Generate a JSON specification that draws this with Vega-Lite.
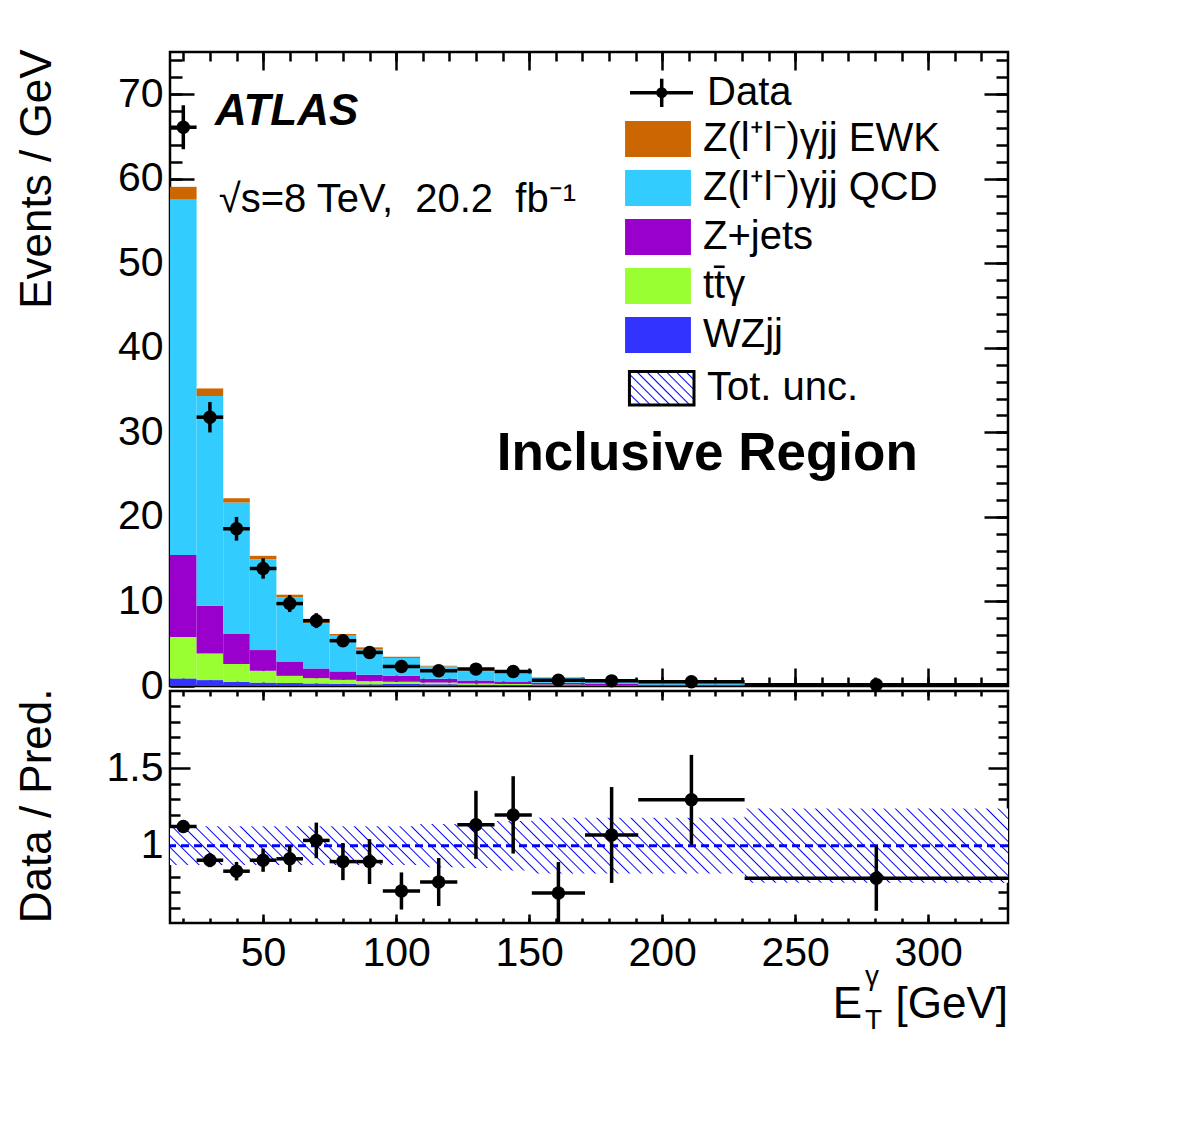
{
  "$schema": "https://vega.github.io/schema/vega-lite/v6.json",
  "background": "white",
  "padding": {"left": 13, "top": 47, "right": 10, "bottom": 10},
  "spacing": 5,
  "bounds": "flush",
  "config": {
    "font": "Liberation Sans",
    "view": {"stroke": "black", "strokeWidth": 2.5},
    "axis": {"grid": false, "domain": false, "tickColor": "black", "tickWidth": 2.5, "labelColor": "black", "labelFont": "Liberation Sans", "labelFontSize": 41, "labelOverlap": false, "labelFlush": false, "titleFont": "Liberation Sans", "titleFontSize": 44, "titleFontWeight": "normal", "titleColor": "black", "zindex": 1}
  },
  "datasets": {
    "stack": [
      {"lo": 15, "hi": 25, "process": "WZjj", "value": 0.9},
      {"lo": 15, "hi": 25, "process": "tt\u0304\u03b3", "value": 4.9},
      {"lo": 15, "hi": 25, "process": "Z+jets", "value": 9.7},
      {"lo": 15, "hi": 25, "process": "Z(l\u207al\u207b)\u03b3jj QCD", "value": 42.1},
      {"lo": 15, "hi": 25, "process": "Z(l\u207al\u207b)\u03b3jj EWK", "value": 1.45},
      {"lo": 25, "hi": 35, "process": "WZjj", "value": 0.7},
      {"lo": 25, "hi": 35, "process": "tt\u0304\u03b3", "value": 3.15},
      {"lo": 25, "hi": 35, "process": "Z+jets", "value": 5.65},
      {"lo": 25, "hi": 35, "process": "Z(l\u207al\u207b)\u03b3jj QCD", "value": 24.8},
      {"lo": 25, "hi": 35, "process": "Z(l\u207al\u207b)\u03b3jj EWK", "value": 0.9},
      {"lo": 35, "hi": 45, "process": "WZjj", "value": 0.5},
      {"lo": 35, "hi": 45, "process": "tt\u0304\u03b3", "value": 2.1},
      {"lo": 35, "hi": 45, "process": "Z+jets", "value": 3.55},
      {"lo": 35, "hi": 45, "process": "Z(l\u207al\u207b)\u03b3jj QCD", "value": 15.55},
      {"lo": 35, "hi": 45, "process": "Z(l\u207al\u207b)\u03b3jj EWK", "value": 0.5},
      {"lo": 45, "hi": 55, "process": "WZjj", "value": 0.4},
      {"lo": 45, "hi": 55, "process": "tt\u0304\u03b3", "value": 1.4},
      {"lo": 45, "hi": 55, "process": "Z+jets", "value": 2.45},
      {"lo": 45, "hi": 55, "process": "Z(l\u207al\u207b)\u03b3jj QCD", "value": 10.75},
      {"lo": 45, "hi": 55, "process": "Z(l\u207al\u207b)\u03b3jj EWK", "value": 0.4},
      {"lo": 55, "hi": 65, "process": "WZjj", "value": 0.35},
      {"lo": 55, "hi": 65, "process": "tt\u0304\u03b3", "value": 0.85},
      {"lo": 55, "hi": 65, "process": "Z+jets", "value": 1.7},
      {"lo": 55, "hi": 65, "process": "Z(l\u207al\u207b)\u03b3jj QCD", "value": 7.6},
      {"lo": 55, "hi": 65, "process": "Z(l\u207al\u207b)\u03b3jj EWK", "value": 0.3},
      {"lo": 65, "hi": 75, "process": "WZjj", "value": 0.3},
      {"lo": 65, "hi": 75, "process": "tt\u0304\u03b3", "value": 0.63},
      {"lo": 65, "hi": 75, "process": "Z+jets", "value": 1.14},
      {"lo": 65, "hi": 75, "process": "Z(l\u207al\u207b)\u03b3jj QCD", "value": 5.33},
      {"lo": 65, "hi": 75, "process": "Z(l\u207al\u207b)\u03b3jj EWK", "value": 0.2},
      {"lo": 75, "hi": 85, "process": "WZjj", "value": 0.25},
      {"lo": 75, "hi": 85, "process": "tt\u0304\u03b3", "value": 0.48},
      {"lo": 75, "hi": 85, "process": "Z+jets", "value": 1.0},
      {"lo": 75, "hi": 85, "process": "Z(l\u207al\u207b)\u03b3jj QCD", "value": 4.22},
      {"lo": 75, "hi": 85, "process": "Z(l\u207al\u207b)\u03b3jj EWK", "value": 0.2},
      {"lo": 85, "hi": 95, "process": "WZjj", "value": 0.2},
      {"lo": 85, "hi": 95, "process": "tt\u0304\u03b3", "value": 0.37},
      {"lo": 85, "hi": 95, "process": "Z+jets", "value": 0.76},
      {"lo": 85, "hi": 95, "process": "Z(l\u207al\u207b)\u03b3jj QCD", "value": 3.04},
      {"lo": 85, "hi": 95, "process": "Z(l\u207al\u207b)\u03b3jj EWK", "value": 0.2},
      {"lo": 95, "hi": 109, "process": "WZjj", "value": 0.25},
      {"lo": 95, "hi": 109, "process": "tt\u0304\u03b3", "value": 0.25},
      {"lo": 95, "hi": 109, "process": "Z+jets", "value": 0.7},
      {"lo": 95, "hi": 109, "process": "Z(l\u207al\u207b)\u03b3jj QCD", "value": 2.1},
      {"lo": 95, "hi": 109, "process": "Z(l\u207al\u207b)\u03b3jj EWK", "value": 0.16},
      {"lo": 109, "hi": 123, "process": "WZjj", "value": 0.2},
      {"lo": 109, "hi": 123, "process": "tt\u0304\u03b3", "value": 0.2},
      {"lo": 109, "hi": 123, "process": "Z+jets", "value": 0.45},
      {"lo": 109, "hi": 123, "process": "Z(l\u207al\u207b)\u03b3jj QCD", "value": 1.45},
      {"lo": 109, "hi": 123, "process": "Z(l\u207al\u207b)\u03b3jj EWK", "value": 0.1},
      {"lo": 123, "hi": 137, "process": "WZjj", "value": 0.15},
      {"lo": 123, "hi": 137, "process": "tt\u0304\u03b3", "value": 0.15},
      {"lo": 123, "hi": 137, "process": "Z+jets", "value": 0.35},
      {"lo": 123, "hi": 137, "process": "Z(l\u207al\u207b)\u03b3jj QCD", "value": 1.1},
      {"lo": 123, "hi": 137, "process": "Z(l\u207al\u207b)\u03b3jj EWK", "value": 0.08},
      {"lo": 137, "hi": 151, "process": "WZjj", "value": 0.12},
      {"lo": 137, "hi": 151, "process": "tt\u0304\u03b3", "value": 0.12},
      {"lo": 137, "hi": 151, "process": "Z+jets", "value": 0.3},
      {"lo": 137, "hi": 151, "process": "Z(l\u207al\u207b)\u03b3jj QCD", "value": 0.9},
      {"lo": 137, "hi": 151, "process": "Z(l\u207al\u207b)\u03b3jj EWK", "value": 0.07},
      {"lo": 151, "hi": 171, "process": "WZjj", "value": 0.1},
      {"lo": 151, "hi": 171, "process": "tt\u0304\u03b3", "value": 0.08},
      {"lo": 151, "hi": 171, "process": "Z+jets", "value": 0.2},
      {"lo": 151, "hi": 171, "process": "Z(l\u207al\u207b)\u03b3jj QCD", "value": 0.57},
      {"lo": 151, "hi": 171, "process": "Z(l\u207al\u207b)\u03b3jj EWK", "value": 0.05},
      {"lo": 171, "hi": 191, "process": "WZjj", "value": 0.08},
      {"lo": 171, "hi": 191, "process": "tt\u0304\u03b3", "value": 0.05},
      {"lo": 171, "hi": 191, "process": "Z+jets", "value": 0.12},
      {"lo": 171, "hi": 191, "process": "Z(l\u207al\u207b)\u03b3jj QCD", "value": 0.28},
      {"lo": 171, "hi": 191, "process": "Z(l\u207al\u207b)\u03b3jj EWK", "value": 0.03},
      {"lo": 191, "hi": 231, "process": "WZjj", "value": 0.05},
      {"lo": 191, "hi": 231, "process": "tt\u0304\u03b3", "value": 0.03},
      {"lo": 191, "hi": 231, "process": "Z+jets", "value": 0.08},
      {"lo": 191, "hi": 231, "process": "Z(l\u207al\u207b)\u03b3jj QCD", "value": 0.22},
      {"lo": 191, "hi": 231, "process": "Z(l\u207al\u207b)\u03b3jj EWK", "value": 0.02},
      {"lo": 231, "hi": 330, "process": "WZjj", "value": 0.03},
      {"lo": 231, "hi": 330, "process": "tt\u0304\u03b3", "value": 0.01},
      {"lo": 231, "hi": 330, "process": "Z+jets", "value": 0.03},
      {"lo": 231, "hi": 330, "process": "Z(l\u207al\u207b)\u03b3jj QCD", "value": 0.09},
      {"lo": 231, "hi": 330, "process": "Z(l\u207al\u207b)\u03b3jj EWK", "value": 0.01}
    ],
    "bins": [
      {"lo": 15, "hi": 25, "x": 20, "d": 66.1, "dlo": 63.5, "dhi": 68.7, "r": 1.124, "rlo": 1.094, "rhi": 1.154},
      {"lo": 25, "hi": 35, "x": 30, "d": 31.8, "dlo": 30.0, "dhi": 33.6, "r": 0.906, "rlo": 0.861, "rhi": 0.951},
      {"lo": 35, "hi": 45, "x": 40, "d": 18.6, "dlo": 17.2, "dhi": 20.0, "r": 0.835, "rlo": 0.775, "rhi": 0.895},
      {"lo": 45, "hi": 55, "x": 50, "d": 13.9, "dlo": 12.7, "dhi": 15.1, "r": 0.906, "rlo": 0.831, "rhi": 0.981},
      {"lo": 55, "hi": 65, "x": 60, "d": 9.75, "dlo": 8.75, "dhi": 10.75, "r": 0.915, "rlo": 0.83, "rhi": 1.0},
      {"lo": 65, "hi": 75, "x": 70, "d": 7.73, "dlo": 6.85, "dhi": 8.61, "r": 1.034, "rlo": 0.919, "rhi": 1.149},
      {"lo": 75, "hi": 85, "x": 80, "d": 5.36, "dlo": 4.63, "dhi": 6.09, "r": 0.897, "rlo": 0.777, "rhi": 1.017},
      {"lo": 85, "hi": 95, "x": 90, "d": 3.97, "dlo": 3.34, "dhi": 4.6, "r": 0.897, "rlo": 0.752, "rhi": 1.042},
      {"lo": 95, "hi": 109, "x": 102, "d": 2.31, "dlo": 1.9, "dhi": 2.72, "r": 0.707, "rlo": 0.587, "rhi": 0.827},
      {"lo": 109, "hi": 123, "x": 116, "d": 1.8, "dlo": 1.44, "dhi": 2.16, "r": 0.765, "rlo": 0.61, "rhi": 0.92},
      {"lo": 123, "hi": 137, "x": 130, "d": 2.0, "dlo": 1.62, "dhi": 2.38, "r": 1.135, "rlo": 0.915, "rhi": 1.355},
      {"lo": 137, "hi": 151, "x": 144, "d": 1.72, "dlo": 1.37, "dhi": 2.07, "r": 1.199, "rlo": 0.949, "rhi": 1.449},
      {"lo": 151, "hi": 171, "x": 161, "d": 0.69, "dlo": 0.5, "dhi": 0.88, "r": 0.694, "rlo": 0.494, "rhi": 0.894},
      {"lo": 171, "hi": 191, "x": 181, "d": 0.61, "dlo": 0.44, "dhi": 0.78, "r": 1.069, "rlo": 0.759, "rhi": 1.379},
      {"lo": 191, "hi": 231, "x": 211, "d": 0.5, "dlo": 0.39, "dhi": 0.61, "r": 1.297, "rlo": 1.007, "rhi": 1.587},
      {"lo": 231, "hi": 330, "x": 280.5, "d": 0.14, "dlo": 0.1, "dhi": 0.18, "r": 0.789, "rlo": 0.579, "rhi": 0.999}
    ],
    "band": [
      {"x": 15, "lo": 0.875, "hi": 1.125},
      {"x": 25, "lo": 0.875, "hi": 1.125},
      {"x": 35, "lo": 0.875, "hi": 1.125},
      {"x": 45, "lo": 0.875, "hi": 1.125},
      {"x": 55, "lo": 0.875, "hi": 1.125},
      {"x": 65, "lo": 0.875, "hi": 1.125},
      {"x": 75, "lo": 0.875, "hi": 1.125},
      {"x": 85, "lo": 0.875, "hi": 1.125},
      {"x": 95, "lo": 0.875, "hi": 1.125},
      {"x": 109, "lo": 0.86, "hi": 1.14},
      {"x": 123, "lo": 0.855, "hi": 1.145},
      {"x": 137, "lo": 0.84, "hi": 1.16},
      {"x": 151, "lo": 0.82, "hi": 1.18},
      {"x": 171, "lo": 0.82, "hi": 1.18},
      {"x": 191, "lo": 0.82, "hi": 1.18},
      {"x": 231, "lo": 0.76, "hi": 1.24},
      {"x": 330, "lo": 0.76, "hi": 1.24}
    ]
  },
  "resolve": {"scale": {"color": "independent"}, "legend": {"color": "independent"}},
  "vconcat": [
    {
      "width": 838,
      "height": 634,
      "resolve": {"axis": {"x": "independent", "y": "independent"}},
      "layer": [
        {
          "data": {"name": "stack"},
          "transform": [
            {"calculate": "indexof(['WZjj','tt\u0304\u03b3','Z+jets','Z(l\u207al\u207b)\u03b3jj QCD','Z(l\u207al\u207b)\u03b3jj EWK'], datum.process)", "as": "ord"},
            {"stack": "value", "groupby": ["lo"], "sort": [{"field": "ord", "order": "ascending"}], "as": ["v0", "v1"]}
          ],
          "mark": {"type": "rect"},
          "encoding": {
            "x": {"field": "lo", "type": "quantitative", "scale": {"domain": [15, 330], "nice": false, "zero": false},
                  "axis": {"orient": "bottom", "values": [50, 100, 150, 200, 250, 300], "labels": false, "tickSize": -18, "title": null}},
            "x2": {"field": "hi"},
            "y": {"field": "v1", "type": "quantitative", "scale": {"domain": [0, 75], "nice": false, "zero": false},
                  "axis": {"orient": "left", "values": [0, 10, 20, 30, 40, 50, 60, 70], "tickSize": -24, "labelPadding": 31, "title": "Events / GeV", "titleX": -155, "titleY": -3, "titleAlign": "right", "titleAngle": 270, "titleBaseline": "top"}},
            "y2": {"field": "v0"},
            "color": {
              "field": "process", "type": "nominal",
              "scale": {
                "domain": ["Z(l\u207al\u207b)\u03b3jj EWK", "Z(l\u207al\u207b)\u03b3jj QCD", "Z+jets", "tt\u0304\u03b3", "WZjj"],
                "range": ["#cc6600", "#33ccff", "#9900cc", "#99ff33", "#3333ff"]
              },
              "legend": {
                "orient": "none", "legendX": 468, "legendY": 67, "title": null, "padding": 0,
                "symbolSize": 1296, "symbolType": "M-1.83,-1H1.83V1H-1.83Z", "symbolStrokeWidth": 0,
                "labelFontSize": 40, "labelFont": "Liberation Sans", "labelColor": "black", "labelOffset": 25, "labelLimit": 600, "rowPadding": 9
              }
            }
          }
        },
        {
          "data": {"name": "bins"},
          "mark": {"type": "rule", "color": "black", "strokeWidth": 3.5},
          "encoding": {
            "x": {"field": "x", "type": "quantitative", "axis": {"orient": "bottom", "values": [20, 30, 40, 50, 60, 70, 80, 90, 100, 110, 120, 130, 140, 150, 160, 170, 180, 190, 200, 210, 220, 230, 240, 250, 260, 270, 280, 290, 300, 310, 320], "labels": false, "tickSize": -9, "title": null}},
            "y": {"field": "dlo", "type": "quantitative", "axis": {"orient": "left", "values": [2, 4, 6, 8, 10, 12, 14, 16, 18, 20, 22, 24, 26, 28, 30, 32, 34, 36, 38, 40, 42, 44, 46, 48, 50, 52, 54, 56, 58, 60, 62, 64, 66, 68, 70, 72, 74], "labels": false, "tickSize": -12, "title": null}},
            "y2": {"field": "dhi"}
          }
        },
        {
          "data": {"name": "bins"},
          "mark": {"type": "rule", "color": "black", "strokeWidth": 3.5},
          "encoding": {
            "x": {"field": "lo", "type": "quantitative", "axis": {"orient": "top", "values": [50, 100, 150, 200, 250, 300], "labels": false, "tickSize": -18, "title": null}},
            "x2": {"field": "hi"},
            "y": {"field": "d", "type": "quantitative", "axis": {"orient": "right", "values": [10, 20, 30, 40, 50, 60, 70], "labels": false, "tickSize": -24, "title": null}}
          }
        },
        {
          "data": {"name": "bins"},
          "mark": {"type": "circle", "color": "black", "opacity": 1, "size": 180},
          "encoding": {
            "x": {"field": "x", "type": "quantitative", "axis": {"orient": "top", "values": [20, 30, 40, 50, 60, 70, 80, 90, 100, 110, 120, 130, 140, 150, 160, 170, 180, 190, 200, 210, 220, 230, 240, 250, 260, 270, 280, 290, 300, 310, 320], "labels": false, "tickSize": -9, "title": null}},
            "y": {"field": "d", "type": "quantitative", "axis": {"orient": "right", "values": [2, 4, 6, 8, 10, 12, 14, 16, 18, 20, 22, 24, 26, 28, 30, 32, 34, 36, 38, 40, 42, 44, 46, 48, 50, 52, 54, 56, 58, 60, 62, 64, 66, 68, 70, 72, 74], "labels": false, "tickSize": -12, "title": null}}
          }
        },
        {
          "data": {"values": [{}]},
          "mark": {"type": "rule", "color": "black", "strokeWidth": 3.5},
          "encoding": {"x": {"datum": 187.9, "type": "quantitative", "axis": null}, "x2": {"datum": 211.6}, "y": {"datum": 70.19, "type": "quantitative", "axis": null}}
        },
        {
          "data": {"values": [{}]},
          "mark": {"type": "rule", "color": "black", "strokeWidth": 3.5},
          "encoding": {"x": {"datum": 199.83, "type": "quantitative", "axis": null}, "y": {"datum": 71.84, "type": "quantitative", "axis": null}, "y2": {"datum": 68.49}}
        },
        {
          "data": {"values": [{}]},
          "mark": {"type": "circle", "color": "black", "opacity": 1, "size": 120},
          "encoding": {"x": {"datum": 199.83, "type": "quantitative", "axis": null}, "y": {"datum": 70.19, "type": "quantitative", "axis": null}}
        },
        {
          "data": {"values": [{}]},
          "mark": {"type": "text", "text": "Data", "font": "Liberation Sans", "fontSize": 40, "align": "left", "baseline": "middle", "color": "black"},
          "encoding": {"x": {"datum": 216.86, "type": "quantitative", "axis": null}, "y": {"datum": 70.19, "type": "quantitative", "axis": null}}
        },
        {
          "data": {"values": [{}]},
          "mark": {"type": "rect", "stroke": "black", "strokeWidth": 3, "fill": {"gradient": "linear", "x1": 0, "y1": 1, "x2": 1.1967, "y2": 0.3789, "stops": [
            {"offset": 0, "color": "#fff"}, {"offset": 0.015, "color": "#00f"}, {"offset": 0.03, "color": "#fff"},
            {"offset": 0.1, "color": "#fff"}, {"offset": 0.115, "color": "#00f"}, {"offset": 0.13, "color": "#fff"},
            {"offset": 0.2, "color": "#fff"}, {"offset": 0.215, "color": "#00f"}, {"offset": 0.23, "color": "#fff"},
            {"offset": 0.3, "color": "#fff"}, {"offset": 0.315, "color": "#00f"}, {"offset": 0.33, "color": "#fff"},
            {"offset": 0.4, "color": "#fff"}, {"offset": 0.415, "color": "#00f"}, {"offset": 0.43, "color": "#fff"},
            {"offset": 0.5, "color": "#fff"}, {"offset": 0.515, "color": "#00f"}, {"offset": 0.53, "color": "#fff"},
            {"offset": 0.6, "color": "#fff"}, {"offset": 0.615, "color": "#00f"}, {"offset": 0.63, "color": "#fff"},
            {"offset": 0.7, "color": "#fff"}, {"offset": 0.715, "color": "#00f"}, {"offset": 0.73, "color": "#fff"},
            {"offset": 0.8, "color": "#fff"}, {"offset": 0.815, "color": "#00f"}, {"offset": 0.83, "color": "#fff"},
            {"offset": 0.9, "color": "#fff"}, {"offset": 0.915, "color": "#00f"}, {"offset": 0.93, "color": "#fff"},
            {"offset": 1, "color": "#fff"}
          ]}},
          "encoding": {"x": {"datum": 187.7, "type": "quantitative", "axis": null}, "x2": {"datum": 211.97}, "y": {"datum": 37.2, "type": "quantitative", "axis": null}, "y2": {"datum": 33.24}}
        },
        {
          "data": {"values": [{}]},
          "mark": {"type": "text", "text": "Tot. unc.", "font": "Liberation Sans", "fontSize": 40, "align": "left", "baseline": "middle", "color": "black"},
          "encoding": {"x": {"datum": 216.86, "type": "quantitative", "axis": null}, "y": {"datum": 35.25, "type": "quantitative", "axis": null}}
        },
        {
          "data": {"values": [{}]},
          "mark": {"type": "text", "text": "ATLAS", "font": "Liberation Sans", "fontSize": 44, "fontWeight": "bold", "fontStyle": "italic", "align": "left", "baseline": "alphabetic", "color": "black"},
          "encoding": {"x": {"datum": 31.9, "type": "quantitative", "axis": null}, "y": {"datum": 66.33, "type": "quantitative", "axis": null}}
        },
        {
          "data": {"values": [{}]},
          "mark": {"type": "text", "text": "\u221as=8 TeV,\u00a0 20.2\u00a0 fb\u207b\u00b9", "font": "Liberation Sans", "fontSize": 40, "align": "left", "baseline": "alphabetic", "color": "black"},
          "encoding": {"x": {"datum": 33.3, "type": "quantitative", "axis": null}, "y": {"datum": 56.1, "type": "quantitative", "axis": null}}
        },
        {
          "data": {"values": [{}]},
          "mark": {"type": "text", "text": "Inclusive Region", "font": "Liberation Sans", "fontSize": 53, "fontWeight": "bold", "align": "left", "baseline": "alphabetic", "color": "black"},
          "encoding": {"x": {"datum": 137.8, "type": "quantitative", "axis": null}, "y": {"datum": 25.52, "type": "quantitative", "axis": null}}
        }
      ]
    },
    {
      "width": 838,
      "height": 232,
      "resolve": {"axis": {"x": "independent", "y": "independent"}},
      "layer": [
        {
          "data": {"name": "band"},
          "mark": {"type": "area", "interpolate": "step-after", "fill": {"gradient": "linear", "x1": 0, "y1": 1, "x2": 1.0801, "y2": 0.9043, "stops": [
            {"offset": 0, "color": "#fff"}, {"offset": 0.0015, "color": "#00f"}, {"offset": 0.003, "color": "#fff"},
            {"offset": 0.0125, "color": "#fff"}, {"offset": 0.014, "color": "#00f"}, {"offset": 0.0155, "color": "#fff"},
            {"offset": 0.025, "color": "#fff"}, {"offset": 0.0265, "color": "#00f"}, {"offset": 0.028, "color": "#fff"},
            {"offset": 0.0375, "color": "#fff"}, {"offset": 0.039, "color": "#00f"}, {"offset": 0.0405, "color": "#fff"},
            {"offset": 0.05, "color": "#fff"}, {"offset": 0.0515, "color": "#00f"}, {"offset": 0.053, "color": "#fff"},
            {"offset": 0.0625, "color": "#fff"}, {"offset": 0.064, "color": "#00f"}, {"offset": 0.0655, "color": "#fff"},
            {"offset": 0.075, "color": "#fff"}, {"offset": 0.0765, "color": "#00f"}, {"offset": 0.078, "color": "#fff"},
            {"offset": 0.0875, "color": "#fff"}, {"offset": 0.089, "color": "#00f"}, {"offset": 0.0905, "color": "#fff"},
            {"offset": 0.1, "color": "#fff"}, {"offset": 0.1015, "color": "#00f"}, {"offset": 0.103, "color": "#fff"},
            {"offset": 0.1125, "color": "#fff"}, {"offset": 0.114, "color": "#00f"}, {"offset": 0.1155, "color": "#fff"},
            {"offset": 0.125, "color": "#fff"}, {"offset": 0.1265, "color": "#00f"}, {"offset": 0.128, "color": "#fff"},
            {"offset": 0.1375, "color": "#fff"}, {"offset": 0.139, "color": "#00f"}, {"offset": 0.1405, "color": "#fff"},
            {"offset": 0.15, "color": "#fff"}, {"offset": 0.1515, "color": "#00f"}, {"offset": 0.153, "color": "#fff"},
            {"offset": 0.1625, "color": "#fff"}, {"offset": 0.164, "color": "#00f"}, {"offset": 0.1655, "color": "#fff"},
            {"offset": 0.175, "color": "#fff"}, {"offset": 0.1765, "color": "#00f"}, {"offset": 0.178, "color": "#fff"},
            {"offset": 0.1875, "color": "#fff"}, {"offset": 0.189, "color": "#00f"}, {"offset": 0.1905, "color": "#fff"},
            {"offset": 0.2, "color": "#fff"}, {"offset": 0.2015, "color": "#00f"}, {"offset": 0.203, "color": "#fff"},
            {"offset": 0.2125, "color": "#fff"}, {"offset": 0.214, "color": "#00f"}, {"offset": 0.2155, "color": "#fff"},
            {"offset": 0.225, "color": "#fff"}, {"offset": 0.2265, "color": "#00f"}, {"offset": 0.228, "color": "#fff"},
            {"offset": 0.2375, "color": "#fff"}, {"offset": 0.239, "color": "#00f"}, {"offset": 0.2405, "color": "#fff"},
            {"offset": 0.25, "color": "#fff"}, {"offset": 0.2515, "color": "#00f"}, {"offset": 0.253, "color": "#fff"},
            {"offset": 0.2625, "color": "#fff"}, {"offset": 0.264, "color": "#00f"}, {"offset": 0.2655, "color": "#fff"},
            {"offset": 0.275, "color": "#fff"}, {"offset": 0.2765, "color": "#00f"}, {"offset": 0.278, "color": "#fff"},
            {"offset": 0.2875, "color": "#fff"}, {"offset": 0.289, "color": "#00f"}, {"offset": 0.2905, "color": "#fff"},
            {"offset": 0.3, "color": "#fff"}, {"offset": 0.3015, "color": "#00f"}, {"offset": 0.303, "color": "#fff"},
            {"offset": 0.3125, "color": "#fff"}, {"offset": 0.314, "color": "#00f"}, {"offset": 0.3155, "color": "#fff"},
            {"offset": 0.325, "color": "#fff"}, {"offset": 0.3265, "color": "#00f"}, {"offset": 0.328, "color": "#fff"},
            {"offset": 0.3375, "color": "#fff"}, {"offset": 0.339, "color": "#00f"}, {"offset": 0.3405, "color": "#fff"},
            {"offset": 0.35, "color": "#fff"}, {"offset": 0.3515, "color": "#00f"}, {"offset": 0.353, "color": "#fff"},
            {"offset": 0.3625, "color": "#fff"}, {"offset": 0.364, "color": "#00f"}, {"offset": 0.3655, "color": "#fff"},
            {"offset": 0.375, "color": "#fff"}, {"offset": 0.3765, "color": "#00f"}, {"offset": 0.378, "color": "#fff"},
            {"offset": 0.3875, "color": "#fff"}, {"offset": 0.389, "color": "#00f"}, {"offset": 0.3905, "color": "#fff"},
            {"offset": 0.4, "color": "#fff"}, {"offset": 0.4015, "color": "#00f"}, {"offset": 0.403, "color": "#fff"},
            {"offset": 0.4125, "color": "#fff"}, {"offset": 0.414, "color": "#00f"}, {"offset": 0.4155, "color": "#fff"},
            {"offset": 0.425, "color": "#fff"}, {"offset": 0.4265, "color": "#00f"}, {"offset": 0.428, "color": "#fff"},
            {"offset": 0.4375, "color": "#fff"}, {"offset": 0.439, "color": "#00f"}, {"offset": 0.4405, "color": "#fff"},
            {"offset": 0.45, "color": "#fff"}, {"offset": 0.4515, "color": "#00f"}, {"offset": 0.453, "color": "#fff"},
            {"offset": 0.4625, "color": "#fff"}, {"offset": 0.464, "color": "#00f"}, {"offset": 0.4655, "color": "#fff"},
            {"offset": 0.475, "color": "#fff"}, {"offset": 0.4765, "color": "#00f"}, {"offset": 0.478, "color": "#fff"},
            {"offset": 0.4875, "color": "#fff"}, {"offset": 0.489, "color": "#00f"}, {"offset": 0.4905, "color": "#fff"},
            {"offset": 0.5, "color": "#fff"}, {"offset": 0.5015, "color": "#00f"}, {"offset": 0.503, "color": "#fff"},
            {"offset": 0.5125, "color": "#fff"}, {"offset": 0.514, "color": "#00f"}, {"offset": 0.5155, "color": "#fff"},
            {"offset": 0.525, "color": "#fff"}, {"offset": 0.5265, "color": "#00f"}, {"offset": 0.528, "color": "#fff"},
            {"offset": 0.5375, "color": "#fff"}, {"offset": 0.539, "color": "#00f"}, {"offset": 0.5405, "color": "#fff"},
            {"offset": 0.55, "color": "#fff"}, {"offset": 0.5515, "color": "#00f"}, {"offset": 0.553, "color": "#fff"},
            {"offset": 0.5625, "color": "#fff"}, {"offset": 0.564, "color": "#00f"}, {"offset": 0.5655, "color": "#fff"},
            {"offset": 0.575, "color": "#fff"}, {"offset": 0.5765, "color": "#00f"}, {"offset": 0.578, "color": "#fff"},
            {"offset": 0.5875, "color": "#fff"}, {"offset": 0.589, "color": "#00f"}, {"offset": 0.5905, "color": "#fff"},
            {"offset": 0.6, "color": "#fff"}, {"offset": 0.6015, "color": "#00f"}, {"offset": 0.603, "color": "#fff"},
            {"offset": 0.6125, "color": "#fff"}, {"offset": 0.614, "color": "#00f"}, {"offset": 0.6155, "color": "#fff"},
            {"offset": 0.625, "color": "#fff"}, {"offset": 0.6265, "color": "#00f"}, {"offset": 0.628, "color": "#fff"},
            {"offset": 0.6375, "color": "#fff"}, {"offset": 0.639, "color": "#00f"}, {"offset": 0.6405, "color": "#fff"},
            {"offset": 0.65, "color": "#fff"}, {"offset": 0.6515, "color": "#00f"}, {"offset": 0.653, "color": "#fff"},
            {"offset": 0.6625, "color": "#fff"}, {"offset": 0.664, "color": "#00f"}, {"offset": 0.6655, "color": "#fff"},
            {"offset": 0.675, "color": "#fff"}, {"offset": 0.6765, "color": "#00f"}, {"offset": 0.678, "color": "#fff"},
            {"offset": 0.6875, "color": "#fff"}, {"offset": 0.689, "color": "#00f"}, {"offset": 0.6905, "color": "#fff"},
            {"offset": 0.7, "color": "#fff"}, {"offset": 0.7015, "color": "#00f"}, {"offset": 0.703, "color": "#fff"},
            {"offset": 0.7125, "color": "#fff"}, {"offset": 0.714, "color": "#00f"}, {"offset": 0.7155, "color": "#fff"},
            {"offset": 0.725, "color": "#fff"}, {"offset": 0.7265, "color": "#00f"}, {"offset": 0.728, "color": "#fff"},
            {"offset": 0.7375, "color": "#fff"}, {"offset": 0.739, "color": "#00f"}, {"offset": 0.7405, "color": "#fff"},
            {"offset": 0.75, "color": "#fff"}, {"offset": 0.7515, "color": "#00f"}, {"offset": 0.753, "color": "#fff"},
            {"offset": 0.7625, "color": "#fff"}, {"offset": 0.764, "color": "#00f"}, {"offset": 0.7655, "color": "#fff"},
            {"offset": 0.775, "color": "#fff"}, {"offset": 0.7765, "color": "#00f"}, {"offset": 0.778, "color": "#fff"},
            {"offset": 0.7875, "color": "#fff"}, {"offset": 0.789, "color": "#00f"}, {"offset": 0.7905, "color": "#fff"},
            {"offset": 0.8, "color": "#fff"}, {"offset": 0.8015, "color": "#00f"}, {"offset": 0.803, "color": "#fff"},
            {"offset": 0.8125, "color": "#fff"}, {"offset": 0.814, "color": "#00f"}, {"offset": 0.8155, "color": "#fff"},
            {"offset": 0.825, "color": "#fff"}, {"offset": 0.8265, "color": "#00f"}, {"offset": 0.828, "color": "#fff"},
            {"offset": 0.8375, "color": "#fff"}, {"offset": 0.839, "color": "#00f"}, {"offset": 0.8405, "color": "#fff"},
            {"offset": 0.85, "color": "#fff"}, {"offset": 0.8515, "color": "#00f"}, {"offset": 0.853, "color": "#fff"},
            {"offset": 0.8625, "color": "#fff"}, {"offset": 0.864, "color": "#00f"}, {"offset": 0.8655, "color": "#fff"},
            {"offset": 0.875, "color": "#fff"}, {"offset": 0.8765, "color": "#00f"}, {"offset": 0.878, "color": "#fff"},
            {"offset": 0.8875, "color": "#fff"}, {"offset": 0.889, "color": "#00f"}, {"offset": 0.8905, "color": "#fff"},
            {"offset": 0.9, "color": "#fff"}, {"offset": 0.9015, "color": "#00f"}, {"offset": 0.903, "color": "#fff"},
            {"offset": 0.9125, "color": "#fff"}, {"offset": 0.914, "color": "#00f"}, {"offset": 0.9155, "color": "#fff"},
            {"offset": 0.925, "color": "#fff"}, {"offset": 0.9265, "color": "#00f"}, {"offset": 0.928, "color": "#fff"},
            {"offset": 0.9375, "color": "#fff"}, {"offset": 0.939, "color": "#00f"}, {"offset": 0.9405, "color": "#fff"},
            {"offset": 0.95, "color": "#fff"}, {"offset": 0.9515, "color": "#00f"}, {"offset": 0.953, "color": "#fff"},
            {"offset": 0.9625, "color": "#fff"}, {"offset": 0.964, "color": "#00f"}, {"offset": 0.9655, "color": "#fff"},
            {"offset": 0.975, "color": "#fff"}, {"offset": 0.9765, "color": "#00f"}, {"offset": 0.978, "color": "#fff"},
            {"offset": 0.9875, "color": "#fff"}, {"offset": 0.989, "color": "#00f"}, {"offset": 0.9905, "color": "#fff"},
            {"offset": 1, "color": "#fff"}
          ]}},
          "encoding": {
            "x": {"field": "x", "type": "quantitative", "scale": {"domain": [15, 330], "nice": false, "zero": false},
                  "axis": {"orient": "bottom", "values": [50, 100, 150, 200, 250, 300], "tickSize": -9, "labelPadding": 19, "title": null}},
            "y": {"field": "hi", "type": "quantitative", "scale": {"domain": [0.5, 2.0], "nice": false, "zero": false},
                  "axis": {"orient": "left", "values": [1, 1.5], "format": ".1~f", "tickSize": -20, "labelPadding": 27, "title": "Data / Pred.", "titleX": -155, "titleY": -3, "titleAlign": "right", "titleAngle": 270, "titleBaseline": "top"}},
            "y2": {"field": "lo"}
          }
        },
        {
          "data": {"values": [{}]},
          "mark": {"type": "rule", "color": "#0000ff", "strokeDash": [8, 5], "strokeWidth": 3},
          "encoding": {"y": {"datum": 1, "type": "quantitative", "axis": null}}
        },
        {
          "data": {"name": "bins"},
          "mark": {"type": "rule", "color": "black", "strokeWidth": 3.5, "clip": true},
          "encoding": {
            "x": {"field": "x", "type": "quantitative", "axis": {"orient": "bottom", "values": [20, 30, 40, 50, 60, 70, 80, 90, 100, 110, 120, 130, 140, 150, 160, 170, 180, 190, 200, 210, 220, 230, 240, 250, 260, 270, 280, 290, 300, 310, 320], "labels": false, "tickSize": -5, "title": null}},
            "y": {"field": "rlo", "type": "quantitative", "axis": {"orient": "left", "values": [0.6, 0.7, 0.8, 0.9, 1.1, 1.2, 1.3, 1.4, 1.6, 1.7, 1.8, 1.9], "labels": false, "tickSize": -10, "title": null}},
            "y2": {"field": "rhi"}
          }
        },
        {
          "data": {"name": "bins"},
          "mark": {"type": "rule", "color": "black", "strokeWidth": 3.5, "clip": true},
          "encoding": {
            "x": {"field": "lo", "type": "quantitative", "axis": {"orient": "top", "values": [50, 100, 150, 200, 250, 300], "labels": false, "tickSize": -9, "title": null}},
            "x2": {"field": "hi"},
            "y": {"field": "r", "type": "quantitative", "axis": {"orient": "right", "values": [1, 1.5], "labels": false, "tickSize": -20, "title": null}}
          }
        },
        {
          "data": {"name": "bins"},
          "mark": {"type": "circle", "color": "black", "opacity": 1, "size": 180},
          "encoding": {
            "x": {"field": "x", "type": "quantitative", "axis": {"orient": "top", "values": [20, 30, 40, 50, 60, 70, 80, 90, 100, 110, 120, 130, 140, 150, 160, 170, 180, 190, 200, 210, 220, 230, 240, 250, 260, 270, 280, 290, 300, 310, 320], "labels": false, "tickSize": -5, "title": null}},
            "y": {"field": "r", "type": "quantitative", "axis": {"orient": "right", "values": [0.6, 0.7, 0.8, 0.9, 1.1, 1.2, 1.3, 1.4, 1.6, 1.7, 1.8, 1.9], "labels": false, "tickSize": -10, "title": null}}
          }
        },
        {
          "data": {"values": [{}]},
          "mark": {"type": "text", "text": "[GeV]", "font": "Liberation Sans", "fontSize": 44, "align": "right", "baseline": "alphabetic", "dy": 95, "color": "black"},
          "encoding": {"x": {"datum": 330, "type": "quantitative", "axis": null}, "y": {"datum": 0.5, "type": "quantitative", "axis": null}}
        },
        {
          "data": {"values": [{}]},
          "mark": {"type": "text", "text": "E", "font": "Liberation Sans", "fontSize": 44, "align": "right", "baseline": "alphabetic", "dx": -146, "dy": 95, "color": "black"},
          "encoding": {"x": {"datum": 330, "type": "quantitative", "axis": null}, "y": {"datum": 0.5, "type": "quantitative", "axis": null}}
        },
        {
          "data": {"values": [{}]},
          "mark": {"type": "text", "text": "\u03b3", "font": "Liberation Sans", "fontSize": 28, "align": "left", "baseline": "alphabetic", "dx": -143, "dy": 62, "color": "black"},
          "encoding": {"x": {"datum": 330, "type": "quantitative", "axis": null}, "y": {"datum": 0.5, "type": "quantitative", "axis": null}}
        },
        {
          "data": {"values": [{}]},
          "mark": {"type": "text", "text": "T", "font": "Liberation Sans", "fontSize": 28, "align": "left", "baseline": "alphabetic", "dx": -143, "dy": 106, "color": "black"},
          "encoding": {"x": {"datum": 330, "type": "quantitative", "axis": null}, "y": {"datum": 0.5, "type": "quantitative", "axis": null}}
        }
      ]
    }
  ]
}
